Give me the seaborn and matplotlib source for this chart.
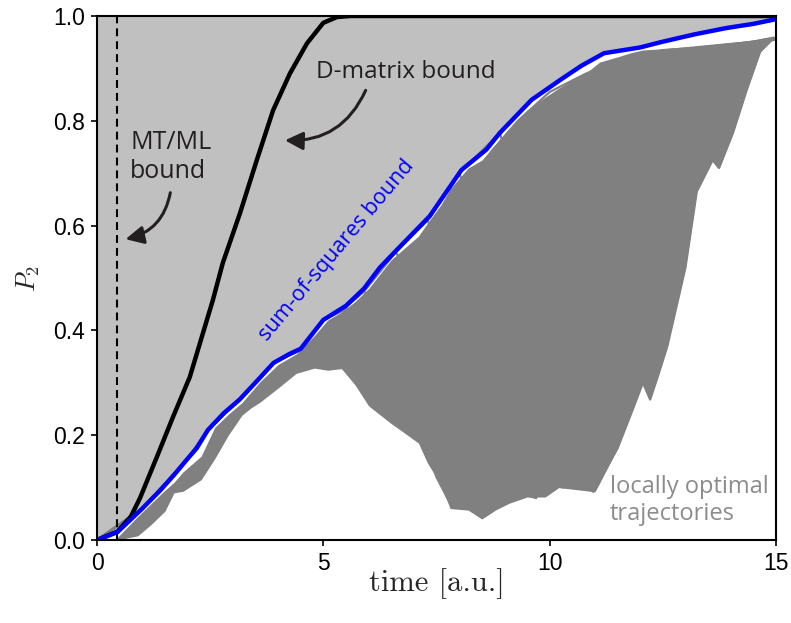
import matplotlib
matplotlib.use("Agg")
import numpy as np
import pandas as pd
import matplotlib.pyplot as plt
import seaborn as sns

# ---- bounds -------------------------------------------------------------
sos_t = [0.0, 0.45, 1.0, 1.4, 1.7, 2.0, 2.2, 2.45, 2.8, 3.15, 3.55, 3.9, 4.25,
         4.5, 5.0, 5.5, 5.9, 6.25, 6.65, 7.35, 8.05, 8.6, 8.9, 9.6, 10.25,
         10.7, 11.2, 12.0, 12.45, 13.2, 13.9, 14.5, 15.0]
sos_p = [0.0, 0.015, 0.06, 0.095, 0.124, 0.155, 0.175, 0.21, 0.242, 0.268,
         0.305, 0.338, 0.355, 0.365, 0.42, 0.447, 0.48, 0.52, 0.556, 0.618,
         0.706, 0.745, 0.777, 0.84, 0.879, 0.905, 0.929, 0.94, 0.95, 0.965,
         0.977, 0.985, 0.994]

dmat_t = [0.0, 0.45, 0.75, 0.95, 1.32, 1.68, 2.05, 2.56, 2.78, 3.16, 3.53,
          3.89, 4.26, 4.64, 5.0, 5.3, 5.6, 15.0]
dmat_p = [0.0, 0.016, 0.045, 0.08, 0.158, 0.235, 0.311, 0.458, 0.529, 0.624,
          0.725, 0.82, 0.89, 0.948, 0.987, 0.998, 1.0, 1.0]

mtml_t = 0.44

# ---- envelope of the locally optimal trajectories -----------------------
band_t = [0.45, 0.9, 1.2, 1.5, 1.7, 1.9, 2.3, 2.6, 2.9, 3.2, 3.4, 3.6, 4.0,
          4.4, 4.8, 5.1, 5.4, 5.7, 6.0, 6.5, 6.7, 7.1, 7.3, 7.6, 7.8, 8.2,
          8.5, 8.8, 9.1, 9.5, 9.9, 10.2, 10.7, 11.0, 11.1, 11.5, 11.8, 12.05,
          12.2, 12.4, 12.6, 13.0, 13.25, 13.6, 13.75, 14.05, 14.35, 14.65,
          14.95]
band_lo = [0.0, 0.008, 0.03, 0.055, 0.09, 0.093, 0.115, 0.155, 0.2, 0.238,
           0.252, 0.263, 0.29, 0.318, 0.328, 0.324, 0.327, 0.296, 0.256,
           0.222, 0.21, 0.185, 0.147, 0.105, 0.06, 0.057, 0.04, 0.057, 0.07,
           0.082, 0.082, 0.1, 0.095, 0.092, 0.108, 0.175, 0.245, 0.3, 0.268,
           0.315, 0.37, 0.52, 0.665, 0.725, 0.71, 0.777, 0.858, 0.932, 0.958]
band_hi = [0.005, 0.045, 0.07, 0.095, 0.11, 0.13, 0.16, 0.215, 0.24, 0.262,
           0.282, 0.302, 0.335, 0.355, 0.39, 0.42, 0.435, 0.455, 0.48, 0.535,
           0.55, 0.58, 0.605, 0.64, 0.67, 0.71, 0.725, 0.755, 0.785, 0.82,
           0.845, 0.862, 0.884, 0.905, 0.912, 0.922, 0.93, 0.935, 0.936,
           0.937, 0.938, 0.939, 0.94, 0.942, 0.943, 0.946, 0.95, 0.957, 0.962]

# ---- representative trajectories ----------------------------------------
traj1_t = [0.0, 1.0, 2.0, 2.45, 3.15, 3.9, 4.5, 5.0, 5.5, 5.9, 6.3, 6.7, 7.1,
           7.5, 7.9, 8.2, 8.35, 8.7, 9.3, 10.0, 10.8, 11.8, 13.0, 14.0, 15.0]
traj1_p = [0.0, 0.06, 0.155, 0.21, 0.268, 0.338, 0.363, 0.42, 0.44, 0.40,
           0.36, 0.42, 0.52, 0.60, 0.67, 0.70, 0.69, 0.74, 0.80, 0.855, 0.89,
           0.925, 0.937, 0.945, 0.958]
traj2_t = [0.0, 1.0, 2.0, 2.45, 3.15, 3.9, 4.5, 5.0, 5.5, 6.0, 6.5, 6.9, 7.3,
           7.8, 8.2, 8.6, 8.8, 9.3, 9.9, 10.6, 11.5, 12.5, 13.8, 15.0]
traj2_p = [0.0, 0.06, 0.155, 0.21, 0.268, 0.338, 0.363, 0.42, 0.445, 0.37,
           0.28, 0.24, 0.33, 0.50, 0.62, 0.70, 0.69, 0.77, 0.84, 0.88, 0.915,
           0.935, 0.942, 0.955]
traj3_t = [0.0, 1.0, 2.0, 2.45, 3.15, 3.9, 4.5, 5.0, 5.5, 5.9, 6.4, 7.0, 7.5,
           7.8, 8.3, 8.9, 9.4, 9.75, 9.9, 10.4, 10.9, 11.6, 12.6, 15.0]
traj3_p = [0.0, 0.06, 0.155, 0.21, 0.268, 0.338, 0.363, 0.42, 0.445, 0.475,
           0.38, 0.24, 0.12, 0.07, 0.20, 0.42, 0.60, 0.69, 0.68, 0.80, 0.88,
           0.92, 0.935, 0.955]
traj4_t = [0.0, 1.0, 2.0, 2.45, 3.15, 3.9, 4.5, 5.0, 5.5, 5.9, 6.6, 7.2, 7.8,
           8.2, 8.5, 8.9, 9.5, 10.0, 10.4, 10.55, 11.0, 11.4, 12.0, 13.0, 15.0]
traj4_p = [0.0, 0.06, 0.155, 0.21, 0.268, 0.338, 0.363, 0.42, 0.445, 0.475,
           0.55, 0.45, 0.30, 0.15, 0.05, 0.10, 0.30, 0.52, 0.68, 0.67, 0.80,
           0.88, 0.925, 0.937, 0.955]
traj5_t = [0.0, 1.0, 2.0, 2.45, 3.15, 3.9, 4.5, 5.0, 5.5, 5.9, 6.6, 7.3, 7.9,
           8.4, 8.9, 9.3, 9.7, 10.2, 10.7, 11.1, 11.4, 11.55, 12.0, 12.4,
           13.0, 15.0]
traj5_p = [0.0, 0.06, 0.155, 0.21, 0.268, 0.338, 0.363, 0.42, 0.445, 0.475,
           0.55, 0.61, 0.50, 0.35, 0.20, 0.09, 0.08, 0.22, 0.45, 0.62, 0.70,
           0.69, 0.84, 0.91, 0.935, 0.955]
traj6_t = [0.0, 1.0, 2.0, 2.45, 3.15, 3.9, 4.5, 5.0, 5.5, 5.9, 6.6, 7.3, 8.0,
           8.6, 9.1, 9.6, 10.0, 10.3, 10.8, 11.3, 11.8, 12.1, 12.25, 12.7,
           13.1, 13.6, 15.0]
traj6_p = [0.0, 0.06, 0.155, 0.21, 0.268, 0.338, 0.363, 0.42, 0.445, 0.475,
           0.55, 0.61, 0.70, 0.58, 0.42, 0.25, 0.12, 0.10, 0.20, 0.40, 0.62,
           0.70, 0.69, 0.84, 0.92, 0.94, 0.955]
traj7_t = [0.0, 1.0, 2.0, 2.45, 3.15, 3.9, 4.5, 5.0, 5.5, 5.9, 6.6, 7.3, 8.0,
           8.9, 9.4, 9.8, 10.2, 10.6, 10.96, 11.5, 11.84, 12.06, 12.22, 12.4,
           12.6, 13.0, 13.25, 13.6, 13.74, 14.05, 14.35, 14.65, 14.95]
traj7_p = [0.0, 0.06, 0.155, 0.21, 0.268, 0.338, 0.363, 0.42, 0.445, 0.475,
           0.55, 0.61, 0.70, 0.777, 0.62, 0.45, 0.25, 0.12, 0.092, 0.175,
           0.25, 0.30, 0.268, 0.315, 0.37, 0.52, 0.665, 0.725, 0.71, 0.777,
           0.858, 0.932, 0.958]

trajectories = [(traj1_t, traj1_p), (traj2_t, traj2_p), (traj3_t, traj3_p),
                (traj4_t, traj4_p), (traj5_t, traj5_p), (traj6_t, traj6_p),
                (traj7_t, traj7_p)]

x_ticks = [0, 5, 10, 15]
y_ticks = [0.0, 0.2, 0.4, 0.6, 0.8, 1.0]

# ---- style ----------------------------------------------------------------
sns.set_theme(style="ticks")
plt.rcParams.update({
    "font.family": ["Liberation Sans", "DejaVu Sans"],
    "mathtext.fontset": "cm",
    "axes.linewidth": 1.5,
    "xtick.major.width": 1.2,
    "ytick.major.width": 1.2,
    "xtick.major.size": 4.5,
    "ytick.major.size": 4.5,
    "xtick.direction": "out",
    "ytick.direction": "out",
    "axes.edgecolor": "black",
    "xtick.color": "black",
    "ytick.color": "black",
})

LIGHT = "#c0c0c0"
DARK = "#808080"
NOTE = "#231f20"
ANNOT_FONT = ["Open Sans", "DejaVu Sans"]
ARROW = "-|>,head_length=0.9,head_width=0.45"

fig = plt.figure(figsize=(7.91, 6.23), dpi=100)
ax = fig.add_axes([97 / 791, 83 / 623, 679 / 791, 524 / 623])

# region above the sum-of-squares bound
ax.fill_between(sos_t, sos_p, 1.0, color=LIGHT, lw=0, zorder=1)

# trajectory bundle: envelope plus the individual trajectories
ax.fill_between(band_t, band_lo, band_hi, color=DARK, lw=0, zorder=2)
for tt, pp in trajectories:
    df = pd.DataFrame({"t": tt, "p": pp})
    sns.lineplot(data=df, x="t", y="p", ax=ax, color=DARK, lw=1.6,
                 estimator=None, sort=False, zorder=3)

# MT/ML bound
ax.axvline(mtml_t, color="black", lw=1.5, ls=(0, (3.8, 2.4)), zorder=4)

# D-matrix bound and sum-of-squares bound
sns.lineplot(x=dmat_t, y=dmat_p, ax=ax, color="black", lw=3.2,
             estimator=None, sort=False, zorder=5)
sns.lineplot(x=sos_t, y=sos_p, ax=ax, color="#0000ff", lw=3.2,
             estimator=None, sort=False, zorder=6)

# annotations
ax.text(6.83, 0.882, "D-matrix bound", fontsize=17.5, family=ANNOT_FONT,
        color=NOTE, ha="center", va="baseline", zorder=7)
ax.annotate("", xy=(4.09, 0.763), xytext=(5.96, 0.863),
            arrowprops=dict(arrowstyle=ARROW, color=NOTE, lw=2.2,
                            connectionstyle="arc3,rad=-0.35"), zorder=7)
ax.text(0.73, 0.691, "MT/ML\nbound", fontsize=18, family=ANNOT_FONT,
        color=NOTE, ha="left", va="baseline", linespacing=1.2, zorder=7)
ax.annotate("", xy=(0.57, 0.573), xytext=(1.63, 0.668),
            arrowprops=dict(arrowstyle=ARROW, color=NOTE, lw=2.2,
                            connectionstyle="arc3,rad=-0.35"), zorder=7)
ax.text(5.3, 0.552, "sum-of-squares bound", fontsize=15.5, family=ANNOT_FONT,
        color="#0000ff", ha="center", va="center", rotation=50,
        rotation_mode="anchor", zorder=7)
ax.text(11.33, 0.038, "locally optimal\ntrajectories", fontsize=17,
        family=ANNOT_FONT, color="#8c8c8c", ha="left", va="baseline",
        linespacing=1.15, zorder=7)

# axes
ax.set_xlim(0, 15)
ax.set_ylim(0, 1)
ax.set_xticks(x_ticks)
ax.set_yticks(y_ticks)
ax.set_xticklabels([str(v) for v in x_ticks])
ax.set_yticklabels([f"{v:.1f}" for v in y_ticks])
ax.tick_params(labelsize=16.5, pad=4)
ax.set_xlabel("time [a.u.]", fontsize=22, family="cmr10", labelpad=-5)
ax.set_ylabel(r"$P_2$", fontsize=19, labelpad=8)
for s in ax.spines.values():
    s.set_visible(True)
    s.set_zorder(10)

fig.savefig("out.png", dpi=100)
